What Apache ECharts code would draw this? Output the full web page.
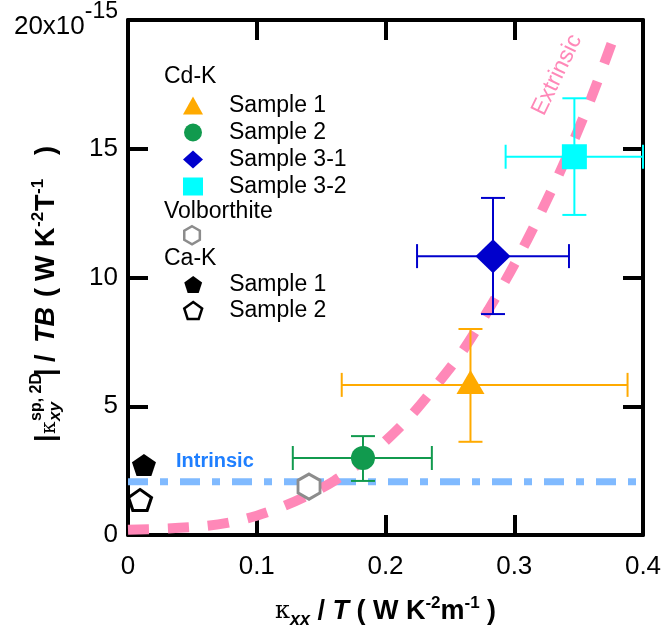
<!DOCTYPE html>
<html>
<head>
<meta charset="utf-8">
<script src="https://cdn.jsdelivr.net/npm/echarts@6/dist/echarts.min.js"></script>
<style>
html,body{margin:0;padding:0;background:#fff;}
#c{width:661px;height:633px;}
</style>
</head>
<body>
<div id="c"></div>
<script>
// ---------- data ----------
const xTickLabels = ['0', '0.1', '0.2', '0.3', '0.4'];
const yTickLabels = ['0', '5', '10', '15', '20x10-15'];

// Cd-K samples (with error bars)
const cdkNames = ['Cd-K Sample 1', 'Cd-K Sample 2', 'Cd-K Sample 3-1', 'Cd-K Sample 3-2'];
const cdkX    = [0.266, 0.1825, 0.2835, 0.3467];
const cdkY    = [5.83, 2.99, 10.83, 14.69];
const cdkXLo  = [0.166, 0.128, 0.2245, 0.2933];
const cdkXHi  = [0.388, 0.236, 0.3425, 0.400];
const cdkYLo  = [3.62, 2.10, 8.58, 12.43];
const cdkYHi  = [8.00, 3.84, 13.09, 16.96];

// Volborthite
const volbX = [0.1406];
const volbY = [1.88];

// Ca-K samples
const cakNames = ['Ca-K Sample 1', 'Ca-K Sample 2'];
const cakX = [0.0124, 0.0093];
const cakY = [2.72, 1.36];

// Intrinsic level
const intrinsicX = [0, 0.4];
const intrinsicY = [2.07, 2.07];

// Extrinsic curve
const extrX = [0.00, 0.03, 0.06, 0.08, 0.10, 0.12, 0.14, 0.16, 0.18, 0.20, 0.22, 0.24, 0.26, 0.28, 0.30, 0.32, 0.34, 0.36, 0.38];
const extrY = [0.20, 0.25, 0.35, 0.50, 0.75, 1.10, 1.55, 2.10, 2.80, 3.65, 4.65, 5.85, 7.15, 8.75, 10.50, 12.45, 14.60, 17.00, 19.70];

// ---------- styles ----------
const FONT = 'Liberation Sans, Arial, Helvetica, sans-serif';
const cdkColors = ['#FFAA00', '#119A4E', '#0000CC', '#00FFFF'];
const cdkSymbols = ['triangle', 'circle', 'diamond', 'rect'];
const cdkSizes = [[28, 24], 24, [35, 34], 25];
const cdkLegendIcons = ['triangle', 'circle', 'diamond', 'rect'];
const HEX = 'path://M0,-1 L0.866,-0.5 L0.866,0.5 L0,1 L-0.866,0.5 L-0.866,-0.5 Z';
const PENT = 'path://M0,-1 L0.951,-0.309 L0.588,0.809 L-0.588,0.809 L-0.951,-0.309 Z';

const chart = echarts.init(document.getElementById('c'), null, {renderer: 'canvas'});

function errRender(color) {
  return function (params, api) {
    const x = api.value(0), y = api.value(1);
    const pL = api.coord([api.value(2), y]);
    const pR = api.coord([api.value(3), y]);
    const pB = api.coord([x, api.value(4)]);
    const pT = api.coord([x, api.value(5)]);
    const cap = 12;
    const st = {stroke: color, lineWidth: 2};
    const L = (x1, y1, x2, y2) => ({type: 'line', shape: {x1, y1, x2, y2}, style: st});
    return {
      type: 'group',
      children: [
        L(pL[0], pL[1], pR[0], pR[1]),
        L(pB[0], pB[1], pT[0], pT[1]),
        L(pL[0], pL[1] - cap, pL[0], pL[1] + cap),
        L(pR[0], pR[1] - cap, pR[0], pR[1] + cap),
        L(pB[0] - cap, pB[1], pB[0] + cap, pB[1]),
        L(pT[0] - cap, pT[1], pT[0] + cap, pT[1])
      ]
    };
  };
}

const series = [];
series.push({
  name: 'Intrinsic', type: 'line', xAxisIndex: 0, yAxisIndex: 0,
  data: intrinsicX.map((x, i) => [x, intrinsicY[i]]),
  symbol: 'none', silent: true, z: 1,
  lineStyle: {color: '#80BAFF', width: 7, type: [20, 12, 8, 12], cap: 'butt'}
});
series.push({
  name: 'Extrinsic', type: 'line', xAxisIndex: 0, yAxisIndex: 0,
  data: extrX.map((x, i) => [x, extrY[i]]),
  symbol: 'none', smooth: 0.3, silent: true, z: 1, clip: true,
  lineStyle: {color: '#FF88B8', width: 10, type: [21, 19], cap: 'butt'}
});
cdkNames.forEach((n, i) => {
  series.push({
    name: n + ' err', type: 'custom', z: 3, silent: true, clip: false,
    renderItem: errRender(cdkColors[i]),
    data: [[cdkX[i], cdkY[i], cdkXLo[i], cdkXHi[i], cdkYLo[i], cdkYHi[i]]]
  });
});
cdkNames.forEach((n, i) => {
  series.push({
    name: n, type: 'scatter', z: 5,
    symbol: cdkSymbols[i], symbolSize: cdkSizes[i],
    symbolOffset: i === 0 ? [0, -3] : [0, 0],
    itemStyle: {color: cdkColors[i], opacity: 1},
    data: [[cdkX[i], cdkY[i]]]
  });
});
series.push({
  name: 'Volborthite', type: 'scatter', z: 5,
  symbol: HEX, symbolSize: [22, 25],
  itemStyle: {color: '#FFFFFF', borderColor: '#8C8C8C', borderWidth: 3, opacity: 1},
  data: volbX.map((x, i) => [x, volbY[i]])
});
series.push({
  name: cakNames[0], type: 'scatter', z: 5,
  symbol: PENT, symbolSize: [24, 22],
  itemStyle: {color: '#000000', opacity: 1},
  data: [[cakX[0], cakY[0]]]
});
series.push({
  name: cakNames[1], type: 'scatter', z: 5,
  symbol: PENT, symbolSize: [23, 21],
  itemStyle: {color: '#FFFFFF', borderColor: '#000000', borderWidth: 3, opacity: 1},
  data: [[cakX[1], cakY[1]]]
});

const axisCommon = {
  min: 0,
  axisLine: {show: true, onZero: false, lineStyle: {color: '#000', width: 4}},
  axisTick: {show: true, inside: true, length: 20, lineStyle: {color: '#000', width: 4}},
  splitLine: {show: false}
};

const legendText = {fontSize: 23, color: '#000', fontFamily: FONT, padding: [0, 0, 0, 21], lineHeight: 23};
const stripPrefix = n => n.replace(/^\S+\s/, '');

// y-axis title pieces (rotated): [text, font, offset along, offset across]
const B27 = 'bold 27px ' + FONT;
const BI27 = 'italic bold 27px ' + FONT;
const SUP = 'bold 17px ' + FONT;
const yTitlePieces = [
  ['|', B27, 0, 0],
  ['κ', '20px DejaVu Serif', 8, 3],
  ['sp, 2D', 'bold 16px ' + FONT, 21, -10],
  ['xy', 'italic bold 17px ' + FONT, 21, 8],
  ['|', B27, 66, 0],
  ['/', B27, 80, 0],
  ['TB', BI27, 99, 0],
  ['(', B27, 145, 0],
  ['W', B27, 161, 0],
  ['K', B27, 195, 0],
  ['-2', SUP, 215, -9],
  ['T', B27, 231, 0],
  ['-1', SUP, 248, -9],
  [')', B27, 287, 0]
];

const option = {
  backgroundColor: '#fff',
  animation: false,
  grid: {left: 128, right: 18, top: 20, bottom: 98, containLabel: false, outerBoundsMode: 'none'},
  xAxis: [
    Object.assign({}, axisCommon, {
      type: 'value', position: 'bottom', max: 0.4, interval: 0.1,
      axisLabel: {
        color: '#000', fontSize: 26, fontFamily: FONT, margin: 19,
        formatter: v => xTickLabels[Math.round(v * 10)]
      },
      name: '{k|κ}{sub|xx}{b| / }{bi|T}{b| ( W K}{sup|-2}{b|m}{sup|-1}{b| )}',
      nameLocation: 'middle', nameGap: 60,
      nameTextStyle: {
        rich: {
          k: {fontSize: 24, fontFamily: 'DejaVu Serif, serif', color: '#000', lineHeight: 34, verticalAlign: 'middle'},
          sub: {fontSize: 18, fontWeight: 'bold', fontStyle: 'italic', fontFamily: FONT, color: '#000', lineHeight: 16, verticalAlign: 'bottom'},
          b: {fontSize: 27, fontWeight: 'bold', fontFamily: FONT, color: '#000', lineHeight: 34, verticalAlign: 'middle'},
          bi: {fontSize: 27, fontWeight: 'bold', fontStyle: 'italic', fontFamily: FONT, color: '#000', lineHeight: 34, verticalAlign: 'middle'},
          sup: {fontSize: 17, fontWeight: 'bold', fontFamily: FONT, color: '#000', lineHeight: 16, verticalAlign: 'top'}
        }
      }
    }),
    Object.assign({}, axisCommon, {
      type: 'value', position: 'top', max: 0.4, interval: 0.1,
      axisLabel: {show: false}
    })
  ],
  yAxis: [
    Object.assign({}, axisCommon, {
      type: 'value', position: 'left', max: 20, interval: 5,
      axisLabel: {
        color: '#000', fontSize: 26, fontFamily: FONT, margin: 10,
        formatter: v => {
          const idx = Math.round(v / 5);
          if (idx === 4) return '{a|20x10}{s|-15}';
          return yTickLabels[idx];
        },
        rich: {
          a: {fontSize: 26, fontFamily: FONT, color: '#000', lineHeight: 40, verticalAlign: 'bottom'},
          s: {fontSize: 23, fontFamily: FONT, color: '#000', lineHeight: 22, verticalAlign: 'top'}
        }
      }
    }),
    Object.assign({}, axisCommon, {
      type: 'value', position: 'right', max: 20, interval: 5,
      axisLabel: {show: false}
    })
  ],
  legend: [
    {
      data: cdkNames.map((n, i) => ({name: n, icon: cdkLegendIcons[i], itemStyle: {color: cdkColors[i]}})),
      orient: 'vertical', left: 178, top: 89, itemWidth: 20, itemHeight: 18, itemGap: 4,
      selectedMode: false, textStyle: legendText, formatter: stripPrefix
    },
    {
      data: [{name: 'Volborthite', icon: HEX, itemStyle: {color: '#FFFFFF', borderColor: '#8C8C8C', borderWidth: 2.5}}],
      orient: 'vertical', left: 178, top: 220, itemWidth: 20, itemHeight: 18, itemGap: 4,
      selectedMode: false, textStyle: legendText, formatter: () => ''
    },
    {
      data: [
        {name: cakNames[0], icon: PENT, itemStyle: {color: '#000000'}},
        {name: cakNames[1], icon: PENT, itemStyle: {color: '#FFFFFF', borderColor: '#000000', borderWidth: 2.5}}
      ],
      orient: 'vertical', left: 178, top: 268, itemWidth: 20, itemHeight: 17, itemGap: 3,
      selectedMode: false, textStyle: legendText, formatter: stripPrefix
    }
  ],
  graphic: [
    {type: 'text', left: 164, top: 65, style: {text: 'Cd-K', fontSize: 23, fontFamily: FONT, fill: '#000'}},
    {type: 'text', left: 164, top: 200, style: {text: 'Volborthite', fontSize: 23, fontFamily: FONT, fill: '#000'}},
    {type: 'text', left: 164, top: 247, style: {text: 'Ca-K', fontSize: 23, fontFamily: FONT, fill: '#000'}},
    {type: 'text', left: 176, top: 451, z: 10, style: {text: 'Intrinsic', fontSize: 20, fontWeight: 'bold', fontFamily: FONT, fill: '#1F7FFF'}},
    {
      type: 'text', x: 557, y: 75, rotation: 64 * Math.PI / 180, z: 10,
      style: {text: 'Extrinsic', fontSize: 23, fontFamily: FONT, fill: '#FF88B8', align: 'center', verticalAlign: 'middle'}
    },
    {
      type: 'group', x: 47, y: 442, rotation: Math.PI / 2,
      children: yTitlePieces.map(p => ({
        type: 'text', x: p[2], y: p[3],
        style: {text: p[0], font: p[1], fill: '#000', align: 'left', verticalAlign: 'middle'}
      }))
    }
  ],
  series: series
};
chart.setOption(option);
</script>
</body>
</html>
